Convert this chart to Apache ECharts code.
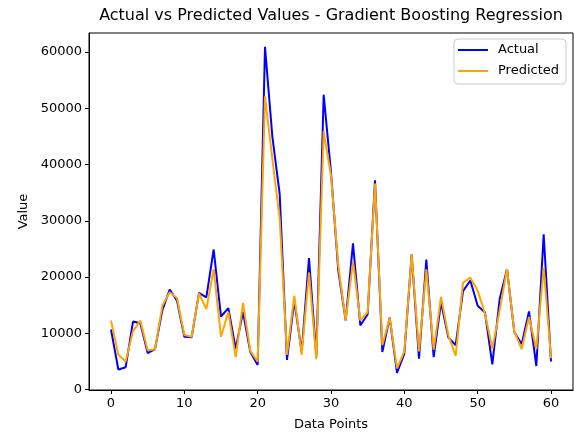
<!DOCTYPE html>
<html>
<head>
<meta charset="utf-8">
<script src="https://cdn.jsdelivr.net/npm/echarts@6/dist/echarts.min.js"></script>
<style>
  html, body { margin: 0; padding: 0; background: #fff; }
  #chart { width: 574px; height: 436px; }
</style>
</head>
<body>
<div id="chart"></div>
<script>
// x positions (sample index) and the two series
const dataPoints = Array.from({ length: 61 }, (_, i) => i);

const actual = [
  10700, 3600, 4000, 12100, 11800, 6500, 7200, 14100, 17800, 15800,
  9400, 9300, 17200, 16400, 24900, 13000, 14500, 7300, 13800, 6700,
  4400, 60900, 45000, 34800, 5300, 15800, 6700, 23400, 5900, 52400,
  38600, 21100, 12300, 26000, 11400, 13400, 37200, 6700, 12800, 3000,
  6400, 24000, 5500, 23100, 5800, 15500, 9300, 7900, 17500, 19400,
  14900, 13700, 4500, 16100, 21400, 10200, 8100, 13900, 4200, 27600,
  5000
];

const predicted = [
  12300, 6200, 5000, 10400, 12300, 7000, 7200, 14900, 17300, 16300,
  9700, 9400, 17100, 14300, 21400, 9400, 13800, 5800, 15400, 6900,
  5000, 52100, 41000, 30400, 6200, 16700, 6200, 20800, 5400, 45900,
  38000, 22000, 12300, 22800, 12300, 13800, 36600, 7900, 12800, 3800,
  6800, 24000, 6800, 21400, 7100, 16500, 9700, 6000, 19000, 19900,
  17600, 13500, 7300, 14100, 21400, 10300, 7200, 12900, 7200, 21700,
  5600
];

const xTicks = [0, 10, 20, 30, 40, 50, 60];
const yTicks = [0, 10000, 20000, 30000, 40000, 50000, 60000];

const chart = echarts.init(document.getElementById('chart'));
const font = 'DejaVu Sans';

const option = {
  animation: false,
  backgroundColor: '#fff',
  textStyle: { fontFamily: font },
  title: {
    text: 'Actual vs Predicted Values - Gradient Boosting Regression',
    left: 331,
    textAlign: 'center',
    top: 8,
    padding: 0,
    textStyle: { fontFamily: font, fontSize: 16, fontWeight: 'normal', color: '#000' }
  },
  legend: {
    orient: 'vertical',
    right: 8,
    top: 39,
    padding: [4, 7, 6, 4],
    itemGap: 7,
    itemWidth: 30,
    itemHeight: 2,
    icon: 'rect',
    borderColor: '#cccccc',
    borderWidth: 1,
    borderRadius: 4,
    backgroundColor: '#fff',
    textStyle: { fontFamily: font, fontSize: 13, color: '#000', lineHeight: 14, padding: [0, 0, 0, 5] },
    data: ['Actual', 'Predicted']
  },
  grid: {
    left: 89,
    right: 1,
    top: 33,
    bottom: 43,
    show: true,
    borderColor: '#000',
    borderWidth: 1,
    containLabel: false
  },
  xAxis: {
    type: 'value',
    min: -3,
    max: 63,
    name: 'Data Points',
    nameLocation: 'middle',
    nameGap: 28,
    nameTextStyle: { fontFamily: font, fontSize: 13, color: '#000' },
    axisLine: { show: true, onZero: false, lineStyle: { color: '#000', width: 1 } },
    axisTick: { show: true, length: 4, customValues: xTicks, lineStyle: { color: '#000' } },
    axisLabel: { customValues: xTicks, formatter: v => String(v), fontFamily: font, fontSize: 13, color: '#000', margin: 7 },
    splitLine: { show: false }
  },
  yAxis: {
    type: 'value',
    min: -50,
    max: 63350,
    name: 'Value',
    nameLocation: 'middle',
    nameGap: 56,
    nameTextStyle: { fontFamily: font, fontSize: 13, color: '#000' },
    axisLine: { show: true, onZero: false, lineStyle: { color: '#000', width: 1 } },
    axisTick: { show: true, length: 4, customValues: yTicks, lineStyle: { color: '#000' } },
    axisLabel: { customValues: yTicks, formatter: v => String(v), fontFamily: font, fontSize: 13, color: '#000', margin: 7 },
    splitLine: { show: false }
  },
  series: [
    {
      name: 'Actual',
      type: 'line',
      showSymbol: false,
      data: dataPoints.map((x, i) => [x, actual[i]]),
      itemStyle: { color: '#0000ff' },
      lineStyle: { color: '#0000ff', width: 2 }
    },
    {
      name: 'Predicted',
      type: 'line',
      showSymbol: false,
      data: dataPoints.map((x, i) => [x, predicted[i]]),
      itemStyle: { color: '#ffa500' },
      lineStyle: { color: '#ffa500', width: 2 }
    }
  ]
};

chart.setOption(option);
</script>
</body>
</html>
